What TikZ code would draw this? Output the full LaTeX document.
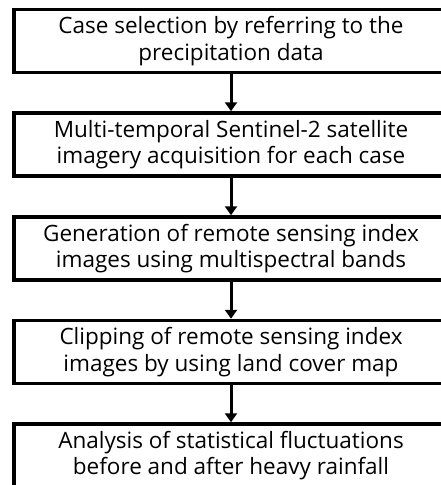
\documentclass[tikz,border=0pt]{standalone}
\usepackage{fontspec}
\setmainfont{Open Sans}
\usetikzlibrary{arrows.meta}
\begin{document}
\begin{tikzpicture}[x=1pt,y=-1pt,
  stepbox/.style={draw=black,line width=3.5pt,minimum width=434pt,minimum height=63pt,
    align=center,inner sep=0pt,font=\fontsize{22.5}{26.5}\selectfont},
  flow/.style={line width=3pt,-{Triangle[width=12pt,length=9pt]}}]
\useasboundingbox (0,0) rectangle (441,485);
\clip (0,0) rectangle (441,485);
\node[stepbox] (b1) at (231,41) {Case selection by referring to the\\precipitation data};
\node[stepbox] (b2) at (231,144.5) {Multi-temporal Sentinel-2 satellite\\imagery acquisition for each case};
\node[stepbox] (b3) at (231,248.5) {Generation of remote sensing index\\images using multispectral bands};
\node[stepbox] (b4) at (231,352) {Clipping of remote sensing index\\images by using land cover map};
\node[stepbox] (b5) at (231,455.5) {Analysis of statistical fluctuations\\before and after heavy rainfall};
\draw[flow] (b1) -- (b2);
\draw[flow] (b2) -- (b3);
\draw[flow] (b3) -- (b4);
\draw[flow] (b4) -- (b5);
\end{tikzpicture}
\end{document}
